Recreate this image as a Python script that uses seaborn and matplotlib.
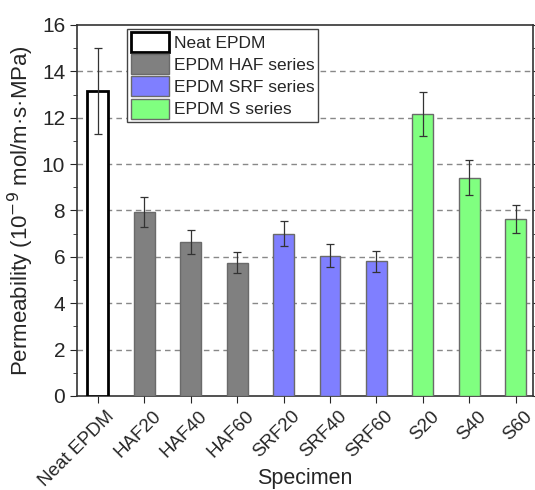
import pandas as pd
import matplotlib
matplotlib.use("Agg")
import matplotlib.pyplot as plt
import matplotlib.transforms as mtransforms
import seaborn as sns
from matplotlib.ticker import MultipleLocator

specimens = ["Neat EPDM", "HAF20", "HAF40", "HAF60", "SRF20", "SRF40", "SRF60", "S20", "S40", "S60"]
series = ["Neat EPDM", "EPDM HAF series", "EPDM HAF series", "EPDM HAF series",
          "EPDM SRF series", "EPDM SRF series", "EPDM SRF series",
          "EPDM S series", "EPDM S series", "EPDM S series"]
permeability = [13.15, 7.95, 6.65, 5.75, 7.0, 6.05, 5.8, 12.15, 9.42, 7.62]
errors = [1.85, 0.65, 0.52, 0.45, 0.55, 0.5, 0.47, 0.95, 0.75, 0.6]

colors = {"Neat EPDM": "#ffffff", "EPDM HAF series": "#808080",
          "EPDM SRF series": "#7f7fff", "EPDM S series": "#80ff80"}

df = pd.DataFrame({"Specimen": specimens, "Series": series,
                   "Permeability": permeability, "err": errors})

sns.set_style("ticks")
plt.rcParams["font.family"] = ["Liberation Sans", "DejaVu Sans"]

fig = plt.figure(figsize=(5.35, 4.9), dpi=100)
ax = fig.add_axes([0.144, 0.192, 0.852, 0.757])

sns.barplot(data=df, x="Specimen", y="Permeability", hue="Series", palette=colors,
            dodge=False, width=0.45, saturation=1, ax=ax, zorder=3)

# neat epdm bar gets a heavy black outline, the rest a thin grey one
for p in ax.patches:
    if p.get_height() == 0:
        continue
    if p.get_facecolor()[:3] == (1.0, 1.0, 1.0):
        p.set_edgecolor("black")
        p.set_linewidth(2)
    else:
        p.set_edgecolor("#6a6a6a")
        p.set_linewidth(1)

ax.errorbar(range(len(specimens)), df["Permeability"], yerr=df["err"], fmt="none",
            ecolor="#333333", elinewidth=0.9, capsize=3, capthick=0.9, zorder=4)

ax.set_ylim(0, 16)
ax.set_xlim(-0.45, 9.37)
ax.yaxis.set_major_locator(MultipleLocator(2))
ax.yaxis.set_minor_locator(MultipleLocator(1))
for y in range(2, 16, 2):
    ax.axhline(y, color="#888888", ls=(0, (4, 3)), lw=1, zorder=1)

ax.tick_params(axis="y", which="both", direction="out", right=True, labelsize=15)
ax.tick_params(axis="y", which="major", length=5)
ax.tick_params(axis="y", which="minor", length=3)
ax.tick_params(axis="x", length=5, labelsize=13.5)
offset = mtransforms.ScaledTranslation(0.08, 0, fig.dpi_scale_trans)
for lab in ax.get_xticklabels():
    lab.set_rotation(45)
    lab.set_ha("right")
    lab.set_rotation_mode("anchor")
    lab.set_transform(lab.get_transform() + offset)
for sp in ax.spines.values():
    sp.set_visible(True)
    sp.set_color("#333333")
    sp.set_linewidth(1.2)

ax.set_xlabel("Specimen", fontsize=15.5)
ax.xaxis.set_label_coords(0.5, -0.195)
ax.set_ylabel("Permeability (10$^{-9}$ mol/m·s·MPa)", fontsize=16, labelpad=4)

handles, labels = ax.get_legend_handles_labels()
for h in handles:
    if h.get_facecolor()[:3] == (1.0, 1.0, 1.0):
        h.set_edgecolor("black")
        h.set_linewidth(2)
    else:
        h.set_edgecolor("#6a6a6a")
ax.legend(handles, labels, loc="upper left", bbox_to_anchor=(0.11, 0.99), fontsize=12.5,
          frameon=True, fancybox=False, edgecolor="#444444", framealpha=1,
          handlelength=2.2, handleheight=1.4, handletextpad=0.3, labelspacing=0.12,
          borderpad=0.2, borderaxespad=0)

fig.savefig("out.png", dpi=100)
